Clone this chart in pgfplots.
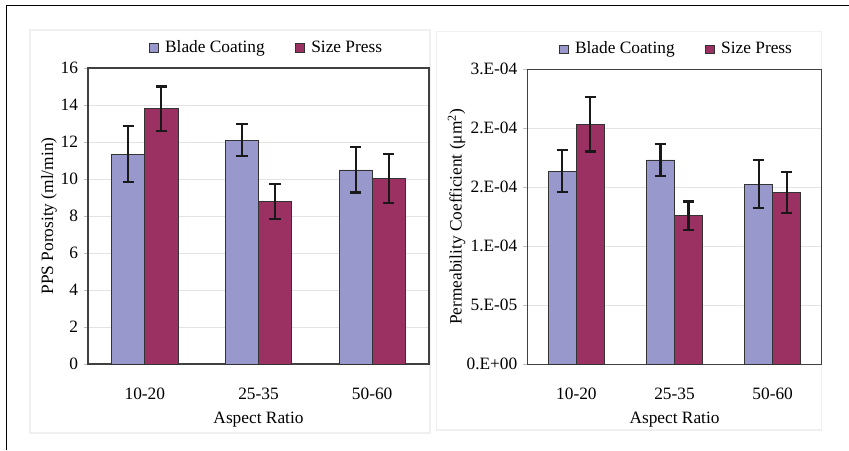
\documentclass[border=0pt]{standalone}
\usepackage{pgfplots}
\pgfplotsset{compat=1.18}
\usepackage{fontspec}
\setmainfont{Liberation Serif}
\definecolor{blade}{RGB}{152,152,204}
\definecolor{size}{RGB}{155,48,98}
\begin{document}
\fontsize{13}{15}\selectfont
\begin{tikzpicture}
\useasboundingbox (0,0) rectangle (636.75pt,337.5pt);
% outer frame (top and left)
\draw[black, line width=1.1pt] (4.9pt,0pt) -- (4.9pt,333.4pt) -- (636.75pt,333.4pt);
% faint panel borders
\draw[gray!12, line width=0.8pt] (22.5pt,12.75pt) rectangle (322.5pt,315pt);
\draw[gray!12, line width=0.8pt] (327.5pt,15pt) rectangle (616.3pt,313.7pt);
\pgfplotsset{
  mybars/.style={
    scale only axis,
    ybar=0pt,
    enlargelimits=false,
    xmin=-0.5, xmax=2.5,
    xtick={0,1,2},
    xticklabels={10-20,25-35,50-60},
    xtick style={draw=none},
    xticklabel style={yshift=-10.5pt},
    xlabel={Aspect Ratio},
    xlabel style={yshift=0pt},
    ytick pos=left,
    tick align=outside,
    major tick length=3pt,
    ytick style={gray!50},
    ymajorgrids,
    grid style={gray!22, line width=0.4pt},
    axis line style={black!75, line width=0.8pt},
    every axis plot/.append style={draw=black!80, line width=0.5pt},
    legend columns=2,
    legend image code/.code={\draw[##1] (0pt,-3.2pt) rectangle (6.4pt,3.2pt);},
    legend style={draw=none, fill=none, anchor=center, font=\fontsize{13}{15}\selectfont,
      /tikz/every odd column/.append style={column sep=3pt},
      /tikz/every even column/.append style={column sep=21pt}},
    error bars/y dir=both,
    error bars/y explicit,
    error bars/error bar style={black!90, line width=1.6pt},
    error bars/error mark options={black!90, line width=1.6pt, mark size=4.2pt, rotate=90},
    /pgf/number format/assume math mode=true,
    label style={font=\fontsize{13}{15}\selectfont},
    tick label style={font=\fontsize{13}{15}\selectfont},
  }
}
% left panel
\begin{axis}[mybars,
  at={(66pt,64.5pt)}, anchor=south west,
  width=255.75pt, height=222pt,
  bar width=24.75pt,
  ymin=0, ymax=16, ytick={0,2,...,16},
  ylabel={PPS Porosity (ml/min)},
  ylabel style={yshift=-6pt},
  legend style={at={(0.525,1.068)}},
]
\addplot[fill=blade] coordinates {(0,11.35) +- (0,1.52) (1,12.09) +- (0,0.86) (2,10.49) +- (0,1.22)};
\addplot[fill=size] coordinates {(0,13.80) +- (0,1.20) (1,8.79) +- (0,0.94) (2,10.02) +- (0,1.33)};
\legend{Blade Coating, Size Press}
\end{axis}
% right panel
\begin{axis}[mybars,
  at={(395.5pt,64.25pt)}, anchor=south west,
  width=220.8pt, height=221.25pt,
  bar width=21pt,
  ymin=0, ymax=2.5e-4,
  scaled y ticks=false,
  ytick={0,5e-5,1e-4,1.5e-4,2e-4,2.5e-4},
  yticklabels={0.E+00,5.E-05,1.E-04,2.E-04,2.E-04,3.E-04},
  ylabel={Permeability Coefficient (μm\textsuperscript{2})},
  ylabel style={yshift=-8pt},
  legend style={at={(0.508,1.068)}},
]
\addplot[fill=blade] coordinates {(0,1.636e-4) +- (0,1.78e-5) (1,1.732e-4) +- (0,1.34e-5) (2,1.528e-4) +- (0,2.0e-5)};
\addplot[fill=size] coordinates {(0,2.034e-4) +- (0,2.3e-5) (1,1.260e-4) +- (0,1.2e-5) (2,1.455e-4) +- (0,1.75e-5)};
\legend{Blade Coating, Size Press}
\end{axis}
\end{tikzpicture}
\end{document}
